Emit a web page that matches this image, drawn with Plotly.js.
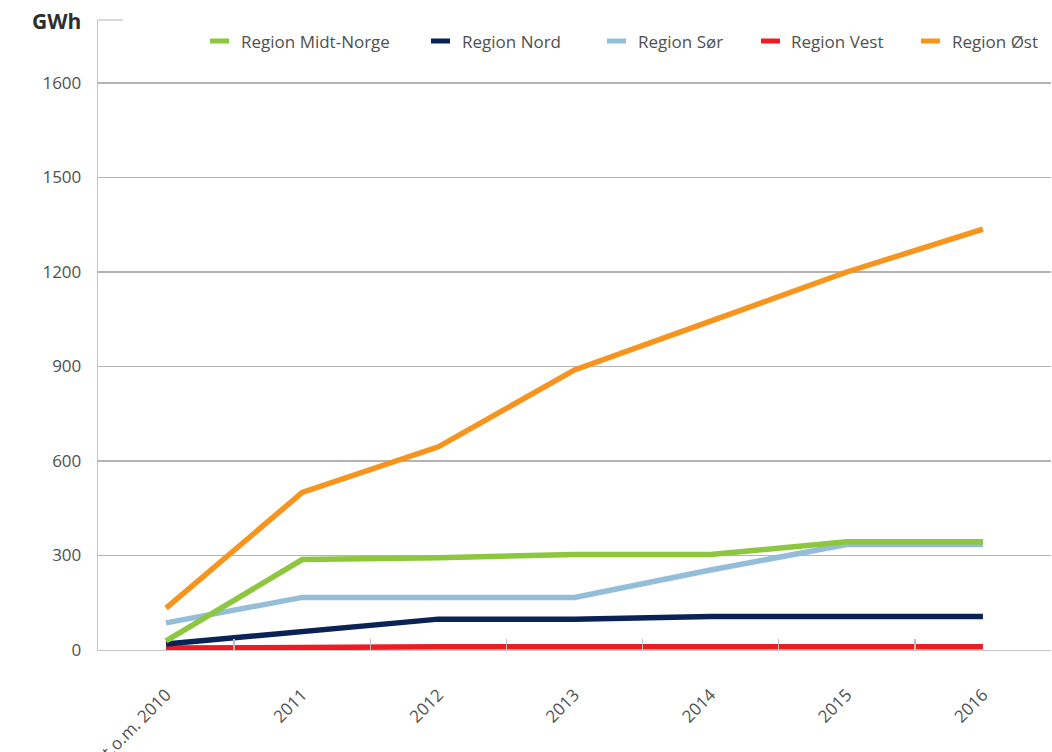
<!DOCTYPE html>
<html>
<head>
<meta charset="utf-8">
<script src="https://cdn.plot.ly/plotly-3.0.1.min.js"></script>
<style>
  html, body { margin: 0; padding: 0; background: #fff; }
  #chart { width: 1052px; height: 752px; }
</style>
</head>
<body>
<div id="chart"></div>
<script>
// Categories along the x axis
const years = ['t.o.m. 2010', '2011', '2012', '2013', '2014', '2015', '2016'];

// Series names and colours (legend order)
const names = ['Region Midt-Norge', 'Region Nord', 'Region Sør', 'Region Vest', 'Region Øst'];
const colors = ['#8dc63f', '#0b2256', '#93bdd8', '#ed1c24', '#f7941d'];

// GWh per region
const midtNorge = [29, 287, 293, 303, 303, 344, 344];
const nord      = [19, 60, 98, 98, 106, 106, 106];
const sor       = [86, 167, 167, 167, 254, 335, 335];
const vest      = [6, 10, 10, 10, 10, 10, 10];
const ost       = [133, 500, 645, 889, 1044, 1200, 1336];

// Y tick values and their printed labels
const yTickVals = [0, 300, 600, 900, 1200, 1500, 1800];
const yTickText = ['0', '300', '600', '900', '1200', '1500', '1600'];

const seriesValues = [midtNorge, nord, sor, vest, ost];
// stacking order: lower lines first, Midt-Norge above Sør, Øst on top
const drawOrder = [3, 1, 2, 0, 4];

const FONT = 'Open Sans, Noto Sans, sans-serif';
const TXT = '#505050';

const traces = drawOrder.map(i => ({
  type: 'scatter',
  mode: 'lines',
  name: names[i],
  x: years,
  y: seriesValues[i],
  line: { color: colors[i], width: 5.5 },
  showlegend: false,
  hoverinfo: 'x+y+name'
}));

// plot area in pixels, used to place the hand-built legend
const L = 98, R = 1051, T = 20, B = 650;
const px = v => (v - L) / (R - L);
const py = v => (B - v) / (B - T);

const legendSwatch = [[210, 229, 239], [431, 450, 460], [607, 626, 636], [761, 780, 789], [921, 940, 950]];
const legendY = 41;

const shapes = [];
const annotations = [];
legendSwatch.forEach((s, i) => {
  shapes.push({
    type: 'line', xref: 'paper', yref: 'paper',
    x0: px(s[0]), x1: px(s[1]), y0: py(legendY), y1: py(legendY),
    line: { color: colors[i], width: 5 }
  });
  annotations.push({
    xref: 'paper', yref: 'paper', x: px(s[2]), y: py(legendY),
    xanchor: 'left', yanchor: 'middle', showarrow: false,
    text: names[i], font: { family: FONT, size: 17, color: TXT }
  });
});

// small cap at the top of the y axis
shapes.push({
  type: 'line', xref: 'paper', yref: 'paper',
  x0: 0, x1: px(123), y0: 1, y1: 1,
  line: { color: '#c4c4c4', width: 1.3 }
});

// unit label
annotations.push({
  xref: 'paper', yref: 'paper', x: px(83), y: py(21),
  xanchor: 'right', yanchor: 'middle', showarrow: false,
  text: '<b>GWh</b>', font: { family: FONT, size: 21, color: '#2e2e2e' }
});

const layout = {
  width: 1052, height: 752,
  margin: { l: L, r: 1052 - R, t: T, b: 752 - B },
  paper_bgcolor: '#ffffff', plot_bgcolor: '#ffffff',
  font: { family: FONT, size: 17, color: TXT },
  showlegend: false,
  xaxis: {
    type: 'category',
    range: [-0.5, 6.5],
    tickson: 'boundaries',
    ticks: 'inside', ticklen: 11, tickwidth: 1.3, tickcolor: '#bdbdbd',
    showline: true, linecolor: '#c4c4c4', linewidth: 1.3,
    showgrid: false, zeroline: false,
    tickangle: -45,
    ticklabelstandoff: 27,
    tickfont: { family: FONT, size: 17, color: TXT }
  },
  yaxis: {
    range: [0, 2000],
    tickvals: yTickVals, ticktext: yTickText,
    showline: true, linecolor: '#c4c4c4', linewidth: 1.3,
    showgrid: true, gridcolor: '#b3b3b3', gridwidth: 1.2,
    zeroline: false,
    ticks: '',
    ticklabelstandoff: 12,
    tickfont: { family: FONT, size: 17, color: TXT }
  },
  shapes: shapes,
  annotations: annotations
};

Plotly.newPlot('chart', traces, layout, { displayModeBar: false, staticPlot: true });
</script>
</body>
</html>
